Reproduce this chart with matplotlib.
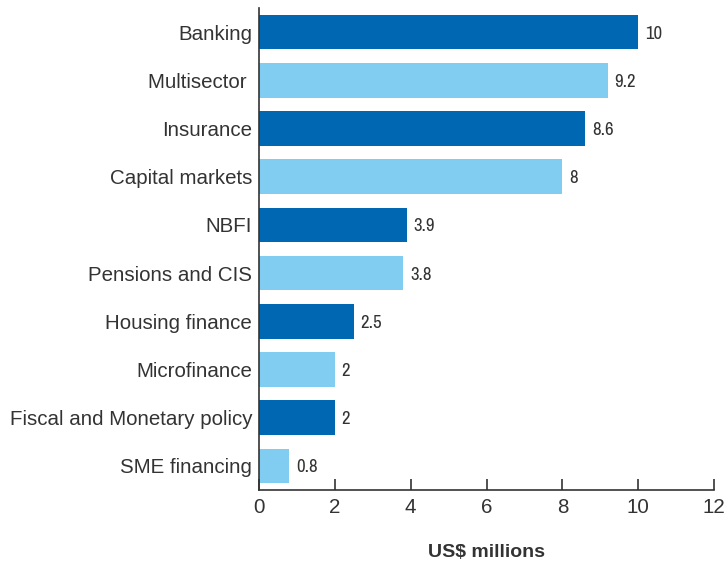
import matplotlib
matplotlib.use("Agg")
import matplotlib.pyplot as plt
from matplotlib import font_manager

# Données (de haut en bas)
categories = ["Banking", "Multisector ", "Insurance", "Capital markets", "NBFI",
              "Pensions and CIS", "Housing finance", "Microfinance",
              "Fiscal and Monetary policy", "SME financing"]
valeurs = [10, 9.2, 8.6, 8, 3.9, 3.8, 2.5, 2, 2, 0.8]
etiquettes = ["10", "9.2", "8.6", "8", "3.9", "3.8", "2.5", "2", "2", "0.8"]

fonce = "#0068b2"
clair = "#80cdf1"
gris = "#333333"

plt.rcParams['font.family'] = ['Liberation Sans', 'DejaVu Sans']

# police étroite pour les valeurs si elle existe
noms = sorted({f.name for f in font_manager.fontManager.ttflist})
etroite = [n for n in noms if "Narrow" in n or "Condensed" in n]
fam_val = (etroite[:1] or []) + ['Liberation Sans', 'DejaVu Sans']

fig = plt.figure(figsize=(7.26, 5.61), dpi=100)
ax = fig.add_axes([259/726, 1 - 490/561, 455/726, 482/561])

n = len(categories)
pos = [n - 1 - i for i in range(n)]
couleurs = [fonce if i % 2 == 0 else clair for i in range(n)]
ax.barh(pos, valeurs, height=0.72, color=couleurs)

for p, v, t in zip(pos, valeurs, etiquettes):
    ax.text(v + 0.18, p - 0.03, t, va="center", ha="left", fontsize=13.5,
            color=gris, family=fam_val, fontstretch="condensed")

ax.set_xlim(0, 12)
ax.set_ylim(-0.5, n - 0.5)
ax.set_xticks(range(0, 13, 2))
ax.set_yticks(pos)
ax.set_yticklabels(categories, fontsize=14.8, color=gris)
ax.tick_params(axis="y", length=0, pad=5)
ax.tick_params(axis="x", direction="in", length=8, width=1.2, colors=gris,
               labelsize=14.8, pad=6)

for s in ["top", "right"]:
    ax.spines[s].set_visible(False)
for s in ["left", "bottom"]:
    ax.spines[s].set_color(gris)
    ax.spines[s].set_linewidth(1.2)

ax.set_xlabel("US$ millions", fontsize=14, fontweight="bold", color=gris, labelpad=19)

fig.savefig("out.png", dpi=100)
